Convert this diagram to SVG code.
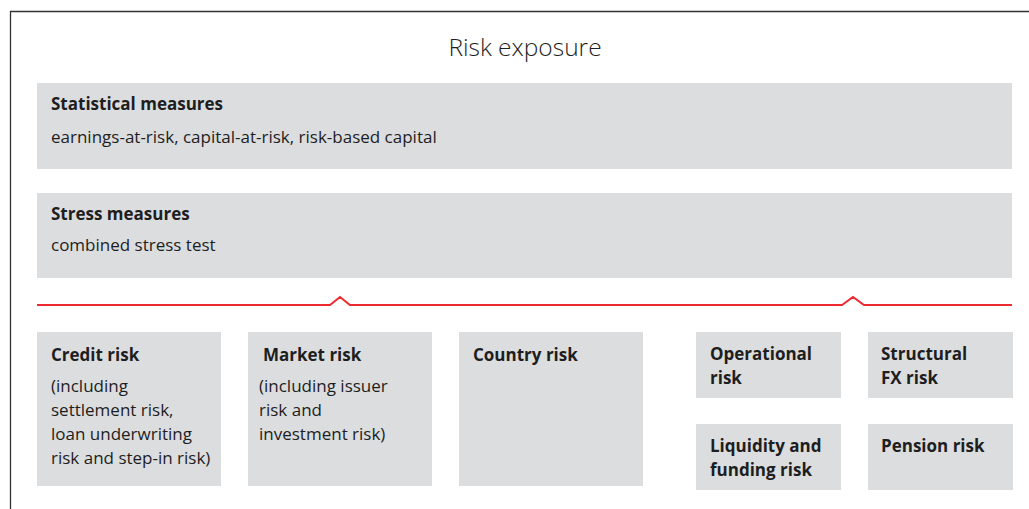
<svg xmlns="http://www.w3.org/2000/svg" width="1029" height="509" viewBox="0 0 1029 509">
<style>
.box{fill:#dcdddf}
.t{font-family:"Open Sans","Liberation Sans",sans-serif;font-size:17px;fill:#1e1e1e}
.b{font-weight:bold}
.title{font-family:"Open Sans","Liberation Sans",sans-serif;font-size:24.5px;fill:#1e1e1e;font-weight:300}
</style>
<rect width="1029" height="509" fill="#fff"/>
<path d="M10.5 509 V11.5 H1029" fill="none" stroke="#333" stroke-width="1.3"/>
<text class="title" x="525" y="56" text-anchor="middle">Risk exposure</text>
<g id="statistical">
<rect class="box" x="37" y="83" width="975" height="86"/>
<text class="t b" x="51" y="110">Statistical measures</text>
<text class="t" x="51" y="143">earnings-at-risk, capital-at-risk, risk-based capital</text>
</g>
<g id="stress">
<rect class="box" x="37" y="193" width="975" height="85"/>
<text class="t b" x="51" y="220">Stress measures</text>
<text class="t" x="51" y="251">combined stress test</text>
</g>
<g id="connectors">
<path d="M37 305 H330 L340 297 L350 305 H842 L853 297 L864 305 H1012" fill="none" stroke="#ee2a2f" stroke-width="2"/>
</g>
<g id="credit">
<rect class="box" x="37" y="332" width="184" height="154"/>
<text class="t b" x="51" y="361">Credit risk</text>
<text class="t" x="51" y="392">(including</text>
<text class="t" x="51" y="416">settlement risk,</text>
<text class="t" x="51" y="440">loan underwriting</text>
<text class="t" x="51" y="464">risk and step-in risk)</text>
</g>
<g id="market">
<rect class="box" x="248" y="332" width="184" height="154"/>
<text class="t b" x="263" y="361">Market risk</text>
<text class="t" x="259" y="392">(including issuer</text>
<text class="t" x="259" y="416">risk and</text>
<text class="t" x="259" y="440">investment risk)</text>
</g>
<g id="country">
<rect class="box" x="459" y="332" width="184" height="154"/>
<text class="t b" x="473" y="361">Country risk</text>
</g>
<g id="operational">
<rect class="box" x="696" y="332" width="145" height="66"/>
<text class="t b" x="710" y="360">Operational</text>
<text class="t b" x="710" y="384">risk</text>
</g>
<g id="structural">
<rect class="box" x="868" y="332" width="145" height="66"/>
<text class="t b" x="881" y="360">Structural</text>
<text class="t b" x="881" y="384">FX risk</text>
</g>
<g id="liquidity">
<rect class="box" x="696" y="424" width="145" height="66"/>
<text class="t b" x="710" y="452">Liquidity and</text>
<text class="t b" x="710" y="476">funding risk</text>
</g>
<g id="pension">
<rect class="box" x="868" y="424" width="145" height="66"/>
<text class="t b" x="881" y="452">Pension risk</text>
</g>
</svg>
